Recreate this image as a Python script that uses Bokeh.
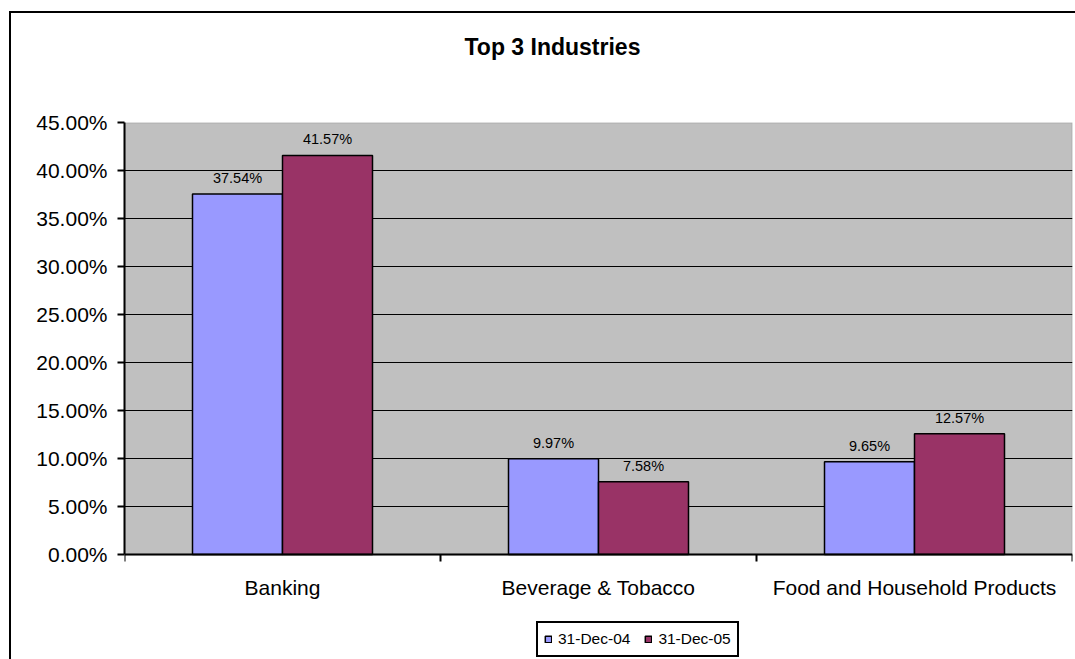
from bokeh.plotting import figure
from bokeh.models import (Range1d, FixedTicker, NumeralTickFormatter, Legend, LegendItem,
                          ColumnDataSource, Title, BoxAnnotation)
from bokeh.embed import file_html
from bokeh.resources import INLINE
from bokeh.core.properties import value

# ---- data ----
categories = ["Banking", "Beverage & Tobacco", "Food and Household Products"]
series_names = ["31-Dec-04", "31-Dec-05"]
dec04 = [0.3754, 0.0997, 0.0965]
dec05 = [0.4157, 0.0758, 0.1257]
y_ticks = [0.00, 0.05, 0.10, 0.15, 0.20, 0.25, 0.30, 0.35, 0.40, 0.45]
title_text = "Top 3 Industries"

FONT = "Liberation Sans"
BLUE = "#9999FF"
MAROON = "#993366"

# layout (pixels)
PLOT_H = 432          # height of the 0..45% plot area
EXTRA_H = 105         # room under the plot area for axis labels and legend
y_lo = y_ticks[0] - (y_ticks[-1] - y_ticks[0]) * EXTRA_H / PLOT_H

n = len(categories)
bar_w = 90 / 316
centers = [i + 0.5 for i in range(n)]
x04 = [c - bar_w / 2 for c in centers]
x05 = [c + bar_w / 2 for c in centers]

src04 = ColumnDataSource(dict(x=x04, top=dec04, lab=[f"{v*100:.2f}%" for v in dec04]))
src05 = ColumnDataSource(dict(x=x05, top=dec05, lab=[f"{v*100:.2f}%" for v in dec05]))

p = figure(
    output_backend="svg", toolbar_location=None, title=None,
    frame_width=948, frame_height=PLOT_H + EXTRA_H,
    min_border_left=113, min_border_right=3, min_border_top=109, min_border_bottom=0,
    x_range=Range1d(0, n), y_range=Range1d(y_lo, y_ticks[-1]),
    margin=(11, 0, 0, 9),
)
p.styles = {"border-left": "2px solid black", "border-top": "2px solid black"}

p.background_fill_color = "white"
p.border_fill_color = "white"
p.outline_line_color = None

# grey plot area with grey top/right border (drawn beneath grid lines)
plot_area = BoxAnnotation(left=0, right=n, bottom=y_ticks[0], top=y_ticks[-1],
                          fill_color="#C0C0C0", fill_alpha=1.0,
                          line_color="#808080", line_width=2, level="underlay")
p.center = [plot_area] + list(p.center)

# title: a thin spacer panel next to the frame, then the title text above it
spacer_top = Title(text=" ", text_font_size="1px", standoff=60)
p.add_layout(spacer_top, "above")
main_title = Title(text=title_text, text_font=FONT, text_font_size="23px", text_font_style="bold",
                   text_color="black", align="left", offset=340, standoff=0, vertical_align="bottom")
p.add_layout(main_title, "above")

# bars
r04 = p.vbar(x="x", top="top", width=bar_w, source=src04, fill_color=BLUE, line_color="black", line_width=1.5)
r05 = p.vbar(x="x", top="top", width=bar_w, source=src05, fill_color=MAROON, line_color="black", line_width=1.5)

for s in (src04, src05):
    p.text(x="x", y="top", text="lab", source=s, y_offset=-16, text_align="center",
           text_baseline="middle", text_font=value(FONT), text_font_size="14.5px", text_color="black")

# grid
p.xgrid.visible = False
p.ygrid.ticker = FixedTicker(ticks=y_ticks[1:-1])
p.ygrid.grid_line_color = "black"
p.ygrid.grid_line_width = 1

# y axis
p.yaxis.ticker = FixedTicker(ticks=y_ticks)
p.yaxis.bounds = (y_ticks[0], y_ticks[-1])
p.yaxis.formatter = NumeralTickFormatter(format="0.00%")
p.yaxis.axis_line_color = "black"
p.yaxis.axis_line_width = 2
p.yaxis.major_tick_line_width = 2
p.yaxis.major_tick_in = 0
p.yaxis.major_tick_out = 7
p.yaxis.minor_tick_line_color = None
p.yaxis.major_label_standoff = 10
p.yaxis.major_label_text_font = FONT
p.yaxis.major_label_text_font_size = "21px"
p.yaxis.major_label_text_color = "black"

# x axis, drawn at 0%
p.xaxis.fixed_location = y_ticks[0]
p.xaxis.ticker = FixedTicker(ticks=centers, minor_ticks=list(range(n + 1)))
p.xaxis.major_label_overrides = {c: cat for c, cat in zip(centers, categories)}
p.xaxis.axis_line_color = "black"
p.xaxis.axis_line_width = 2
p.xaxis.major_tick_in = 0
p.xaxis.major_tick_out = 0
p.xaxis.minor_tick_in = 0
p.xaxis.minor_tick_out = 7
p.xaxis.minor_tick_line_width = 2
p.xaxis.minor_tick_line_color = "black"
p.xaxis.major_label_standoff = 14
p.xaxis.major_label_text_font = FONT
p.xaxis.major_label_text_font_size = "21px"
p.xaxis.major_label_text_color = "black"

# legend under the axis labels
legend = Legend(
    items=[LegendItem(label=series_names[0], renderers=[r04]),
           LegendItem(label=series_names[1], renderers=[r05])],
    orientation="horizontal", location=(412, 2),
    border_line_color="black", border_line_alpha=1.0, border_line_width=2,
    background_fill_color="white", background_fill_alpha=1.0,
    label_text_font=FONT, label_text_font_size="15.5px", label_text_color="black",
    glyph_width=8, glyph_height=8, label_standoff=6, spacing=14, padding=6, margin=0,
    label_height=20,
)
p.add_layout(legend)

open("out.html", "w").write(file_html(p, INLINE))
